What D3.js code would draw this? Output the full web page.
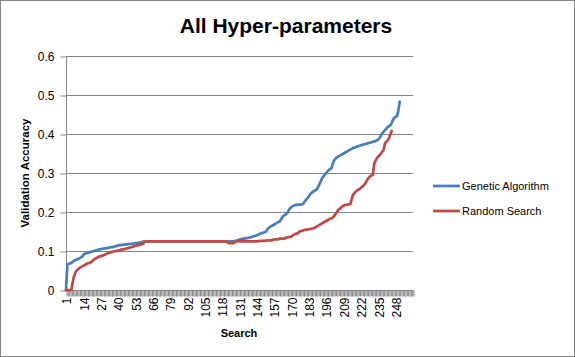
<!DOCTYPE html>
<html><head><meta charset="utf-8">
<script src="https://cdn.jsdelivr.net/npm/d3@7"></script>
<style>body{margin:0;background:#fff}svg{display:block}text{font-family:"Liberation Sans",Arial,sans-serif}</style>
</head><body>
<svg id="c" width="575" height="357"></svg>
<script>
const title = "All Hyper-parameters";
const xTitle = "Search";
const yTitle = "Validation Accuracy";
const seriesNames = ["Genetic Algorithm", "Random Search"];
const categoryCount = 261;
const xTickLabels = ["1","14","27","40","53","66","79","92","105","118","131","144","157","170","183","196","209","222","235","248"];
const yTicks = [0, 0.1, 0.2, 0.3, 0.4, 0.5, 0.6];

const geneticAlgorithm = [
0,0.065,0.067,0.068,0.070,0.072,0.075,0.077,0.078,0.079,
0.081,0.083,0.085,0.090,0.093,0.094,0.095,0.096,0.097,0.098,
0.099,0.100,0.101,0.102,0.103,0.104,0.105,0.105,0.106,0.107,
0.107,0.108,0.108,0.109,0.110,0.110,0.111,0.112,0.113,0.114,
0.115,0.115,0.116,0.116,0.117,0.117,0.117,0.118,0.118,0.118,
0.119,0.119,0.120,0.120,0.121,0.121,0.122,0.123,0.124,0.125,
0.125,0.125,0.125,0.125,0.125,0.125,0.125,0.125,0.125,0.125,
0.125,0.125,0.125,0.125,0.125,0.125,0.125,0.125,0.125,0.125,
0.125,0.125,0.125,0.125,0.125,0.125,0.125,0.125,0.125,0.125,
0.125,0.125,0.125,0.125,0.125,0.125,0.125,0.125,0.125,0.125,
0.125,0.125,0.125,0.125,0.125,0.125,0.125,0.125,0.125,0.125,
0.125,0.125,0.125,0.125,0.125,0.125,0.125,0.125,0.125,0.125,
0.125,0.125,0.125,0.125,0.125,0.125,0.125,0.126,0.127,0.128,
0.129,0.130,0.131,0.132,0.132,0.133,0.133,0.134,0.135,0.136,
0.137,0.138,0.139,0.140,0.142,0.144,0.145,0.146,0.147,0.148,
0.150,0.156,0.160,0.162,0.164,0.166,0.168,0.170,0.172,0.174,
0.176,0.180,0.186,0.190,0.192,0.195,0.198,0.205,0.210,0.213,
0.215,0.217,0.218,0.218,0.219,0.219,0.219,0.220,0.222,0.228,
0.232,0.236,0.240,0.246,0.249,0.252,0.254,0.256,0.258,0.265,
0.272,0.280,0.287,0.292,0.296,0.300,0.304,0.308,0.310,0.313,
0.325,0.333,0.337,0.340,0.342,0.344,0.346,0.348,0.350,0.352,
0.354,0.356,0.358,0.360,0.362,0.364,0.365,0.366,0.368,0.369,
0.370,0.371,0.372,0.373,0.374,0.375,0.376,0.377,0.378,0.379,
0.380,0.381,0.382,0.384,0.386,0.390,0.396,0.402,0.406,0.410,
0.414,0.418,0.420,0.422,0.428,0.436,0.442,0.444,0.446,0.460,
0.483];

const randomSearch = [
0,0,0,0,0,0.020,0.035,0.045,0.050,0.053,
0.056,0.058,0.060,0.062,0.064,0.066,0.068,0.069,0.070,0.072,
0.075,0.078,0.080,0.082,0.084,0.086,0.087,0.088,0.089,0.090,
0.092,0.094,0.095,0.096,0.097,0.098,0.099,0.100,0.100,0.101,
0.102,0.103,0.104,0.104,0.105,0.106,0.107,0.108,0.109,0.110,
0.111,0.112,0.113,0.114,0.115,0.116,0.117,0.118,0.119,0.125,
0.125,0.125,0.125,0.125,0.125,0.125,0.125,0.125,0.125,0.125,
0.125,0.125,0.125,0.125,0.125,0.125,0.125,0.125,0.125,0.125,
0.125,0.125,0.125,0.125,0.125,0.125,0.125,0.125,0.125,0.125,
0.125,0.125,0.125,0.125,0.125,0.125,0.125,0.125,0.125,0.125,
0.125,0.125,0.125,0.125,0.125,0.125,0.125,0.125,0.125,0.125,
0.125,0.125,0.125,0.125,0.125,0.125,0.125,0.125,0.125,0.125,
0.124,0.122,0.120,0.120,0.120,0.120,0.120,0.124,0.125,0.125,
0.125,0.125,0.125,0.125,0.125,0.125,0.125,0.125,0.125,0.125,
0.125,0.125,0.125,0.125,0.125,0.126,0.126,0.126,0.126,0.126,
0.127,0.127,0.127,0.127,0.127,0.128,0.130,0.130,0.130,0.130,
0.132,0.132,0.132,0.132,0.132,0.135,0.135,0.136,0.136,0.137,
0.140,0.142,0.144,0.145,0.146,0.150,0.151,0.152,0.153,0.154,
0.155,0.155,0.156,0.157,0.157,0.158,0.159,0.161,0.163,0.165,
0.167,0.169,0.171,0.173,0.175,0.177,0.179,0.181,0.183,0.184,
0.186,0.190,0.195,0.200,0.205,0.208,0.211,0.214,0.216,0.218,
0.218,0.219,0.220,0.220,0.232,0.244,0.248,0.252,0.255,0.257,
0.259,0.262,0.265,0.268,0.272,0.278,0.284,0.288,0.292,0.294,
0.295,0.325,0.332,0.338,0.342,0.346,0.350,0.355,0.359,0.376,
0.380,0.384,0.389,0.398,0.408];

const colors = ["#4A7EBB", "#BE4B48"];
const gridColor = "#868686";

const svg = d3.select("#c");
svg.append("rect").attr("x",0.5).attr("y",0.5).attr("width",574).attr("height",356)
  .attr("fill","#fff").attr("stroke",gridColor);

const categories = d3.range(1, categoryCount + 1);
const x = d3.scalePoint().domain(categories).range([66, 413]);
const y = d3.scaleLinear().domain([0, 0.6]).range([290, 56]);

// gridlines
svg.append("g").selectAll("line").data(yTicks.filter(d => d > 0)).join("line")
  .attr("x1", 66).attr("x2", 413)
  .attr("y1", d => Math.round(y(d)) + 0.5).attr("y2", d => Math.round(y(d)) + 0.5)
  .attr("stroke", gridColor).attr("stroke-width", 1);

// y axis
const yAxis = d3.axisLeft(y).tickValues(yTicks).tickSize(6).tickPadding(6)
  .tickFormat(d => d === 0 ? "0" : d3.format(".1f")(d));
const gy = svg.append("g").attr("transform", "translate(66.5,0.5)").call(yAxis);
gy.selectAll("line,path").attr("stroke", gridColor);
gy.select("path").attr("d", `M0,${y(0.6)}V${y(0)}`);
gy.selectAll("text").attr("font-size", 12).attr("fill", "#000")
  .attr("font-family", "'Liberation Sans',Arial,sans-serif");

// x axis
const xAxis = d3.axisBottom(x).tickSize(6).tickPadding(4)
  .tickFormat(d => xTickLabels.includes(String(d)) ? String(d) : "");
const gx = svg.append("g").attr("transform", "translate(0.5,290.5)").call(xAxis);
gx.selectAll("line,path").attr("stroke", gridColor);
gx.select("path").attr("d", `M${x(1)-0.5},0H${x(categoryCount)}`);
gx.selectAll("text").attr("font-size", 12).attr("fill", "#000")
  .attr("font-family", "'Liberation Sans',Arial,sans-serif")
  .attr("transform", "rotate(-90)").attr("text-anchor", "end")
  .attr("x", -7).attr("y", 0).attr("dy", "0.35em");

// lines
const line = d3.line().x((d, i) => x(categories[i])).y(d => y(d));
[geneticAlgorithm, randomSearch].forEach((s, k) => {
  svg.append("path").datum(s).attr("d", line).attr("fill", "none")
    .attr("stroke", colors[k]).attr("stroke-width", 2.75)
    .attr("stroke-linejoin", "round").attr("stroke-linecap", "round");
});

// titles
svg.append("text").attr("x", 286).attr("y", 33).attr("text-anchor", "middle")
  .attr("font-size", 21).attr("font-weight", "bold").text(title);
svg.append("text").attr("x", 239).attr("y", 337).attr("text-anchor", "middle")
  .attr("font-size", 11).attr("font-weight", "bold").text(xTitle);
svg.append("text").attr("transform", "translate(29,173) rotate(-90)").attr("text-anchor", "middle")
  .attr("font-size", 11.5).attr("font-weight", "bold").text(yTitle);

// legend
const leg = svg.append("g");
seriesNames.forEach((n, k) => {
  const ly = 186 + k * 25;
  leg.append("line").attr("x1", 433).attr("x2", 460).attr("y1", ly).attr("y2", ly)
    .attr("stroke", colors[k]).attr("stroke-width", 2.75);
  leg.append("text").attr("x", 462).attr("y", ly).attr("dy", "0.35em")
    .attr("font-size", 11).text(n);
});
</script>
</body></html>
